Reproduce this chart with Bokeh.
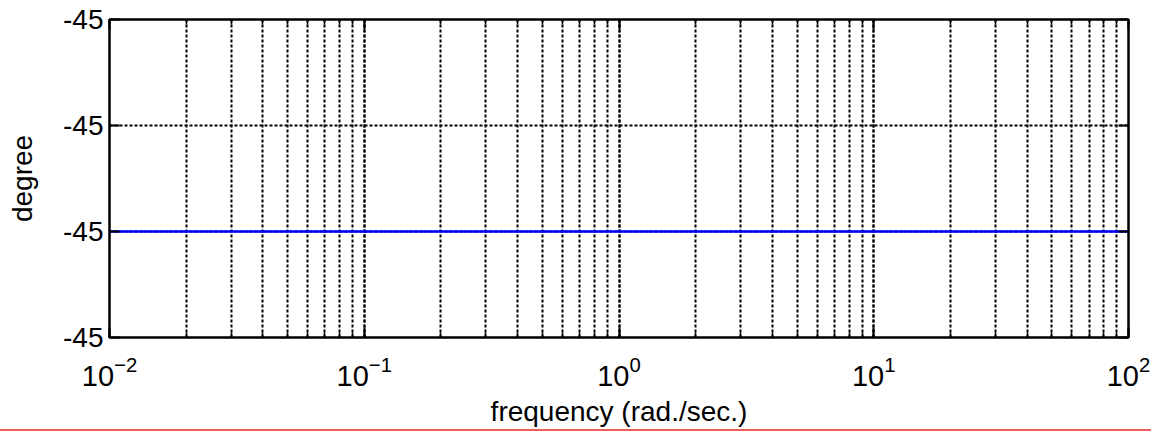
from bokeh.plotting import figure
from bokeh.models import (Range1d, FixedTicker, LogTicker, LogAxis, LinearAxis,
                          PrintfTickFormatter, Div)
from bokeh.layouts import column
from bokeh.embed import file_html
from bokeh.resources import INLINE

# Phase response: constant -45 degrees over the whole frequency span
freq = [0.01, 100.0]
phase_deg = [-45.0, -45.0]

# Axis limits / ticks (the y span is tiny, so every tick prints as -45)
x_lim = [1e-2, 1e2]
y_step = 1e-10
y_ticks = [-45.0 - y_step, -45.0, -45.0 + y_step, -45.0 + 2 * y_step]

FONT = "Liberation Sans"

p = figure(width=1151, height=429, x_axis_type="log",
           x_range=Range1d(x_lim[0], x_lim[1]),
           y_range=Range1d(y_ticks[0], y_ticks[-1]),
           output_backend="svg", toolbar_location=None,
           min_border_left=109, min_border_right=23,
           min_border_top=19, min_border_bottom=92)

p.outline_line_color = "black"
p.outline_line_width = 2
p.background_fill_color = "white"
p.border_fill_color = "white"

p.xaxis.ticker = LogTicker(num_minor_ticks=10)
p.yaxis.ticker = FixedTicker(ticks=y_ticks)
p.yaxis.formatter = PrintfTickFormatter(format="%.0f")

# dotted grid on every major and minor position
for g in (p.xgrid[0], p.ygrid[0]):
    g.grid_line_color = "black"
    g.grid_line_dash = "3 2"
    g.grid_line_width = 2
p.xgrid.minor_grid_line_color = "black"
p.xgrid.minor_grid_line_dash = "3 2"
p.xgrid.minor_grid_line_width = 2


def style_axis(ax, labels=True):
    ax.axis_line_color = "black"
    ax.axis_line_width = 2
    ax.major_tick_in = 10
    ax.major_tick_out = 0
    ax.minor_tick_in = 5
    ax.minor_tick_out = 0
    ax.major_tick_line_color = "black"
    ax.major_tick_line_width = 2
    ax.minor_tick_line_color = "black"
    ax.minor_tick_line_width = 1.5
    ax.major_label_text_font = FONT
    ax.axis_label_text_font = FONT
    ax.axis_label_text_font_style = "normal"
    ax.axis_label_text_color = "black"
    ax.axis_label_text_font_size = "28px"
    if labels:
        ax.major_label_text_font_size = "28px"
        ax.major_label_text_color = "black"
    else:
        ax.major_label_text_font_size = "2px"
        ax.major_label_text_alpha = 0
        ax.major_label_standoff = 0


style_axis(p.xaxis[0])
style_axis(p.yaxis[0])
p.xaxis.major_label_text_font_size = "29px"
p.xaxis.axis_label = "frequency (rad./sec.)"
p.yaxis.axis_label = "degree"
p.yaxis.major_label_standoff = 6
p.yaxis.axis_label_standoff = 22
p.xaxis.major_label_standoff = 18
p.xaxis.axis_label_standoff = 7

# mirrored tick marks on the top and right edges
top_axis = LogAxis(ticker=LogTicker(num_minor_ticks=10))
style_axis(top_axis, labels=False)
p.add_layout(top_axis, "above")
right_axis = LinearAxis(ticker=FixedTicker(ticks=y_ticks),
                        formatter=PrintfTickFormatter(format="%.0f"))
style_axis(right_axis, labels=False)
p.add_layout(right_axis, "right")

p.line(freq, phase_deg, line_color="#0000ff", line_width=2.5)

rule = Div(width=1151, height=2, margin=0,
           styles={"background-color": "#f25c5c"})

layout = column(p, rule, spacing=0)
open("out.html", "w").write(file_html(layout, INLINE))
